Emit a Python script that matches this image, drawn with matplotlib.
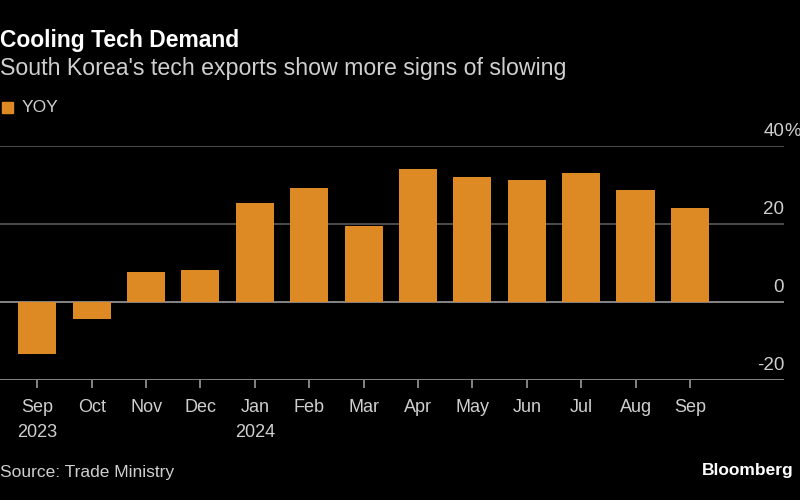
import matplotlib.pyplot as plt
import numpy as np

# Dados (variação anual, %)
meses = ["Sep", "Oct", "Nov", "Dec", "Jan", "Feb", "Mar",
         "Apr", "May", "Jun", "Jul", "Aug", "Sep"]
anos = {0: "2023", 4: "2024"}
yoy = [-13.4, -4.4, 7.7, 8.3, 25.5, 29.3, 19.4,
       34.1, 32.1, 31.4, 33.0, 28.7, 24.2]
y_ticks = [-20, 0, 20, 40]

laranja = "#DD8A25"
fundo = "black"
cinza_grade = "#5a5a5a"
cinza_texto = "#cfcfcf"

plt.rcParams['font.family'] = ['Liberation Sans', 'DejaVu Sans']

fig = plt.figure(figsize=(8, 5), dpi=100, facecolor=fundo)
ax = fig.add_axes([0.0, 0.24, 0.98, 0.468])
ax.set_facecolor(fundo)

x = np.arange(len(yoy))
ax.bar(x, yoy, width=0.70, color=laranja, zorder=3)

ax.set_xlim(-0.686, 13.73)
ax.set_ylim(-20, 40)

# Linhas de grade e rótulos do eixo y (acima de cada linha)
for v in y_ticks:
    cor = "#9a9a9a" if v in (0, -20) else cinza_grade
    ax.axhline(v, color=cor, linewidth=1.2, zorder=2)
    ax.annotate(f"{v}", xy=(1, v), xycoords=('axes fraction', 'data'),
                xytext=(0, 4), textcoords='offset points',
                ha='right', va='bottom', color=cinza_texto, fontsize=13.5,
                annotation_clip=False)
    if v == 40:
        ax.annotate("%", xy=(1, v), xycoords=('axes fraction', 'data'),
                    xytext=(0, 4), textcoords='offset points',
                    ha='left', va='bottom', color=cinza_texto, fontsize=13.5,
                    annotation_clip=False)

for s in ax.spines.values():
    s.set_visible(False)
ax.set_yticks([])

rotulos = [m + ("\n" + anos[i] if i in anos else "") for i, m in enumerate(meses)]
ax.set_xticks(x)
ax.set_xticklabels(rotulos, color=cinza_texto, fontsize=13, linespacing=1.55,
                   va='top')
ax.tick_params(axis='x', colors="#9a9a9a", length=6, width=1.2, pad=8,
               labelcolor=cinza_texto)

# Títulos
fig.text(0.0, 0.918, "Cooling Tech Demand", color="white",
         fontsize=16.5, fontweight='bold', ha='left', va='center')
fig.text(0.0, 0.862, "South Korea's tech exports show more signs of slowing",
         color=cinza_texto, fontsize=16.7, ha='left', va='center')

# Legenda
fig.patches.append(plt.Rectangle((0.003, 0.774), 0.013, 0.021,
                                 transform=fig.transFigure, color=laranja))
fig.text(0.027, 0.785, "YOY", color=cinza_texto, fontsize=12.5,
         ha='left', va='center')

# Rodapé
fig.text(0.0, 0.056, "Source: Trade Ministry", color=cinza_texto,
         fontsize=12.5, ha='left', va='center')
fig.text(0.992, 0.06, "Bloomberg", color="white", fontsize=12.5,
         fontweight='bold', ha='right', va='center')

fig.savefig("out.png", dpi=100, facecolor=fundo)
